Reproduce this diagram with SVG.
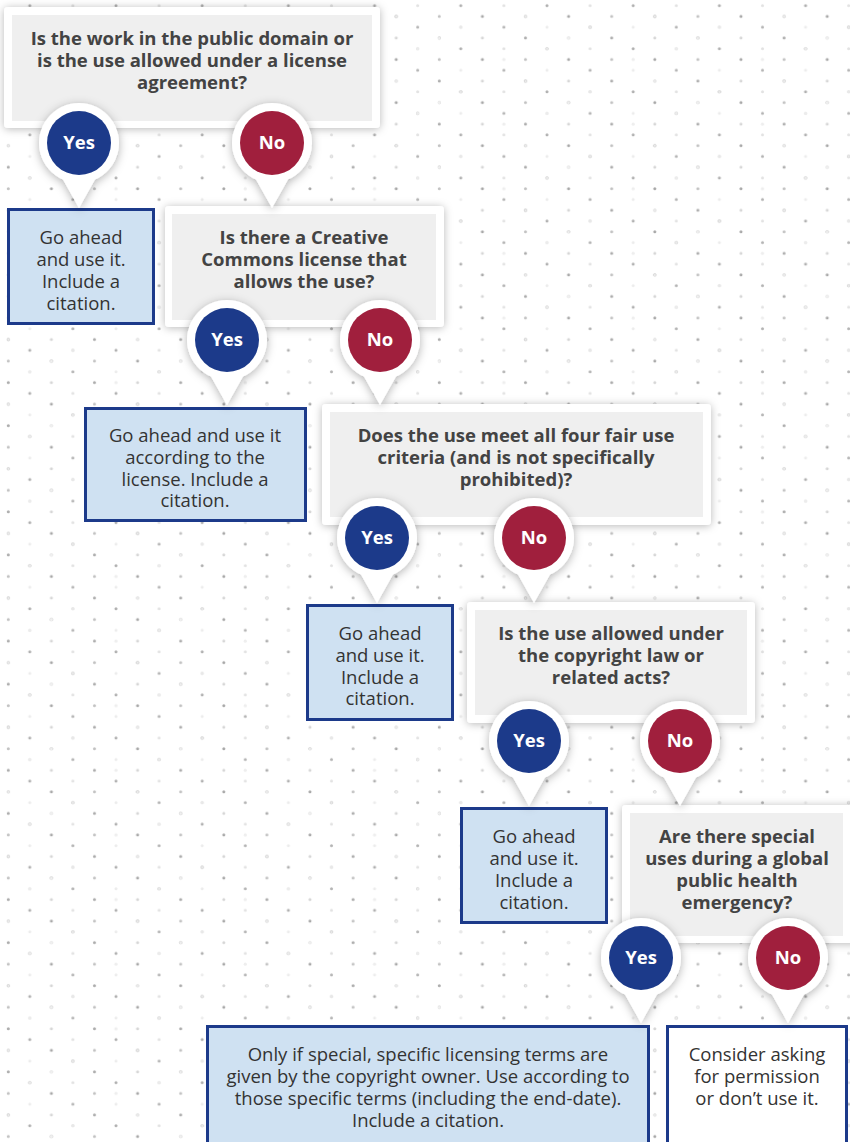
<svg xmlns="http://www.w3.org/2000/svg" width="850" height="1142" viewBox="0 0 850 1142">
<defs>
<pattern id="dots" patternUnits="userSpaceOnUse" x="0" y="0" width="86.2" height="43.08">
<circle cx="29.8" cy="5.7" r="1.5" fill="#b0b0b0"/>
<circle cx="72.9" cy="5.7" r="1.5" fill="#e2e2e2"/>
<circle cx="8.3" cy="16.47" r="1.5" fill="#c2c2c2"/>
<circle cx="51.4" cy="16.47" r="1.5" fill="#a8a8a8"/>
<circle cx="29.8" cy="27.24" r="1.5" fill="#ececec"/>
<circle cx="72.9" cy="27.24" r="1.5" fill="#b4b4b4"/>
<circle cx="8.3" cy="38.01" r="1.5" fill="#acacac"/>
<circle cx="51.4" cy="38.01" r="1.5" fill="#d6d6d6"/>
</pattern>
<pattern id="dots2" patternUnits="userSpaceOnUse" x="43.1" y="21.54" width="129.3" height="64.62">
<circle cx="29.8" cy="5.7" r="1.6" fill="#e8e8e8"/>
<circle cx="8.3" cy="16.47" r="1.6" fill="#f0f0f0"/>
<circle cx="72.9" cy="38.01" r="1.6" fill="#eeeeee"/>
<circle cx="116" cy="27.24" r="1.6" fill="#ececec"/>
<circle cx="94.6" cy="59.55" r="1.6" fill="#eaeaea"/>
</pattern>
<filter id="sh" x="-20%" y="-20%" width="140%" height="140%">
<feDropShadow dx="0" dy="1" stdDeviation="4" flood-color="#000" flood-opacity="0.28"/>
</filter>
<filter id="shp" x="-40%" y="-40%" width="180%" height="180%">
<feDropShadow dx="0" dy="2" stdDeviation="5" flood-color="#000" flood-opacity="0.3"/>
</filter>
<path id="pin" d="M0,65 L-16,36.6 A40,40 0 1 1 16,36.6 Z"/>
</defs>
<style>
.card{fill:#fff;filter:url(#sh)}
.inner{fill:#efefef}
.q{font-family:"Open Sans","Liberation Sans",sans-serif;font-weight:700;font-size:18.5px;fill:#434343;text-anchor:middle}
.a{font-family:"Open Sans","Liberation Sans",sans-serif;font-weight:400;font-size:18.5px;fill:#333;text-anchor:middle}
.ans{fill:#cfe1f2;stroke:#1c3a8a;stroke-width:3}
.answ{fill:#fff;stroke:#1c3a8a;stroke-width:3}
.pinw{fill:#fff;filter:url(#shp)}
.yes{fill:#1c3a8a}
.no{fill:#a01f3d}
.pl{font-family:"Open Sans","Liberation Sans",sans-serif;font-weight:700;font-size:18.5px;fill:#fff;text-anchor:middle}
</style>
<rect width="850" height="1142" fill="#fff"/>
<rect width="850" height="1142" fill="url(#dots)"/>
<rect width="850" height="1142" fill="url(#dots2)"/>

<g id="q1">
<rect class="card" x="4" y="7" width="376" height="121" rx="4"/>
<rect class="inner" x="12" y="15" width="360" height="106"/>
<text class="q" x="192" y="45">Is the work in the public domain or</text>
<text class="q" x="192" y="67">is the use allowed under a license</text>
<text class="q" x="192" y="89">agreement?</text>
</g>
<g id="a1">
<rect class="ans" x="8.5" y="209.5" width="145" height="114"/>
<text class="a" x="81" y="244">Go ahead</text>
<text class="a" x="81" y="266">and use it.</text>
<text class="a" x="81" y="288">Include a</text>
<text class="a" x="81" y="310">citation.</text>
</g>
<g id="q2">
<rect class="card" x="165" y="206" width="279" height="121" rx="4"/>
<rect class="inner" x="172" y="214" width="264" height="106"/>
<text class="q" x="304" y="244">Is there a Creative</text>
<text class="q" x="304" y="266">Commons license that</text>
<text class="q" x="304" y="288">allows the use?</text>
</g>
<g id="a2">
<rect class="ans" x="85.5" y="408.5" width="220" height="112"/>
<text class="a" x="195" y="442">Go ahead and use it</text>
<text class="a" x="195" y="464">according to the</text>
<text class="a" x="195" y="486">license. Include a</text>
<text class="a" x="195" y="507">citation.</text>
</g>
<g id="q3">
<rect class="card" x="322" y="404" width="389" height="121" rx="4"/>
<rect class="inner" x="330" y="412" width="373" height="105"/>
<text class="q" x="516" y="442">Does the use meet all four fair use</text>
<text class="q" x="516" y="464">criteria (and is not specifically</text>
<text class="q" x="516" y="486">prohibited)?</text>
</g>
<g id="a3">
<rect class="ans" x="307.5" y="605.5" width="145" height="114"/>
<text class="a" x="380" y="640">Go ahead</text>
<text class="a" x="380" y="662">and use it.</text>
<text class="a" x="380" y="684">Include a</text>
<text class="a" x="380" y="705">citation.</text>
</g>
<g id="q4">
<rect class="card" x="467" y="602" width="288" height="121" rx="4"/>
<rect class="inner" x="475" y="610" width="272" height="105"/>
<text class="q" x="611" y="640">Is the use allowed under</text>
<text class="q" x="611" y="662">the copyright law or</text>
<text class="q" x="611" y="684">related acts?</text>
</g>
<g id="a4">
<rect class="ans" x="461.5" y="808.5" width="145" height="114"/>
<text class="a" x="534" y="843">Go ahead</text>
<text class="a" x="534" y="865">and use it.</text>
<text class="a" x="534" y="887">Include a</text>
<text class="a" x="534" y="909">citation.</text>
</g>
<g id="q5">
<rect class="card" x="622" y="805" width="240" height="138" rx="4"/>
<rect class="inner" x="630" y="813" width="213" height="123"/>
<text class="q" x="737" y="843">Are there special</text>
<text class="q" x="737" y="865">uses during a global</text>
<text class="q" x="737" y="887">public health</text>
<text class="q" x="737" y="909">emergency?</text>
</g>
<g id="a5">
<rect class="ans" x="207.5" y="1026.5" width="441" height="125"/>
<text class="a" x="428" y="1061">Only if special, specific licensing terms are</text>
<text class="a" x="428" y="1083">given by the copyright owner. Use according to</text>
<text class="a" x="428" y="1105">those specific terms (including the end-date).</text>
<text class="a" x="428" y="1127">Include a citation.</text>
</g>
<g id="a6">
<rect class="answ" x="667.5" y="1026.5" width="179" height="125"/>
<text class="a" x="757" y="1061">Consider asking</text>
<text class="a" x="757" y="1083">for permission</text>
<text class="a" x="757" y="1105">or don’t use it.</text>
</g>

<g id="connectors">
<g id="p1y" transform="translate(79,143)"><use href="#pin" class="pinw"/><circle class="yes" r="32"/><text class="pl" y="6">Yes</text></g>
<g id="p1n" transform="translate(272,143)"><use href="#pin" class="pinw"/><circle class="no" r="32"/><text class="pl" y="6">No</text></g>
<g id="p2y" transform="translate(227,340)"><use href="#pin" class="pinw"/><circle class="yes" r="32"/><text class="pl" y="6">Yes</text></g>
<g id="p2n" transform="translate(380,340)"><use href="#pin" class="pinw"/><circle class="no" r="32"/><text class="pl" y="6">No</text></g>
<g id="p3y" transform="translate(377,538)"><use href="#pin" class="pinw"/><circle class="yes" r="32"/><text class="pl" y="6">Yes</text></g>
<g id="p3n" transform="translate(534,538)"><use href="#pin" class="pinw"/><circle class="no" r="32"/><text class="pl" y="6">No</text></g>
<g id="p4y" transform="translate(529,741)"><use href="#pin" class="pinw"/><circle class="yes" r="32"/><text class="pl" y="6">Yes</text></g>
<g id="p4n" transform="translate(680,741)"><use href="#pin" class="pinw"/><circle class="no" r="32"/><text class="pl" y="6">No</text></g>
<g id="p5y" transform="translate(641,958)"><use href="#pin" class="pinw"/><circle class="yes" r="32"/><text class="pl" y="6">Yes</text></g>
<g id="p5n" transform="translate(788,958)"><use href="#pin" class="pinw"/><circle class="no" r="32"/><text class="pl" y="6">No</text></g>
</g>
</svg>
